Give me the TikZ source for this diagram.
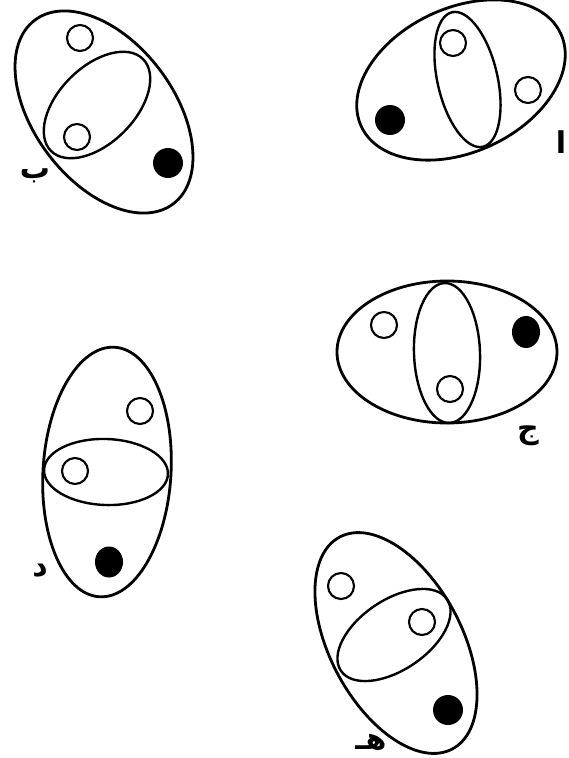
\documentclass[tikz,border=0pt]{standalone}
\usepackage{fontspec}
\newfontfamily\arabicfont[Script=Arabic]{DejaVu Sans Bold}
\TeXXeTstate=1
\begin{document}
\begin{tikzpicture}[x=1pt,y=-1pt,
  outer/.style={line width=2.8pt},
  inner/.style={line width=2.4pt},
  hole/.style={line width=2.1pt},
  dot/.style={fill=black},
  lab/.style={font=\arabicfont\fontsize{30}{34}\selectfont, inner sep=0pt}]
\useasboundingbox (0,0) rectangle (568,758);
% --- figure b (top left)
\draw[outer, shift={(104,112)}, rotate=-53] (0,0) ellipse [x radius=115pt, y radius=70pt];
\draw[inner, shift={(97,105)}, rotate=45] (0,0) ellipse [x radius=65pt, y radius=38pt];
\draw[hole] (80,38) circle [radius=13pt];
\draw[hole] (77,137) circle [radius=13pt];
\fill[dot] (168,163) circle [radius=15pt];
\node[lab] (lb) at (35,176) {\beginR ب\endR};
% --- figure a (top right)
\draw[outer, shift={(461,80)}, rotate=25] (0,0) ellipse [x radius=110pt, y radius=72pt];
\draw[inner, shift={(467.5,79.5)}, rotate=102.9] (0,0) ellipse [x radius=69pt, y radius=30pt];
\draw[hole] (453,43) circle [radius=13pt];
\draw[hole] (528,90) circle [radius=13pt];
\fill[dot] (390,120) circle [radius=15pt];
\node[lab] (la) at (561,142) {\beginR ا\endR};
% --- figure j (middle right)
\draw[outer, shift={(447,352)}] (0,0) ellipse [x radius=110pt, y radius=71pt];
\draw[inner, shift={(447,353)}, rotate=92] (0,0) ellipse [x radius=70pt, y radius=33pt];
\draw[hole] (384,325) circle [radius=13pt];
\draw[hole] (450,389) circle [radius=13pt];
\fill[dot] (526,332) ellipse [x radius=14pt, y radius=16pt];
\node[lab] (lj) at (528,436) {\beginR ج\endR};
% --- figure d (middle left)
\draw[outer, shift={(107,472)}, rotate=86.5] (0,0) ellipse [x radius=125pt, y radius=64pt];
\draw[inner, shift={(106,472)}, rotate=-2] (0,0) ellipse [x radius=62pt, y radius=33pt];
\draw[hole] (140,411) circle [radius=13pt];
\draw[hole] (75,471) circle [radius=13pt];
\fill[dot] (109,562) ellipse [x radius=14pt, y radius=15.5pt];
\node[lab] (ld) at (40,571) {\beginR د\endR};
% --- figure h (bottom)
\draw[outer, shift={(396,643)}, rotate=-62] (0,0) ellipse [x radius=120pt, y radius=66pt];
\draw[inner, shift={(394,635)}, rotate=34] (0,0) ellipse [x radius=64pt, y radius=35pt];
\draw[hole] (341,586) circle [radius=13pt];
\draw[hole] (422,622) circle [radius=13pt];
\fill[dot] (448,710) circle [radius=15pt];
\node[lab] (lh) at (371,742) {\beginR هـ\endR};
\end{tikzpicture}
\end{document}
